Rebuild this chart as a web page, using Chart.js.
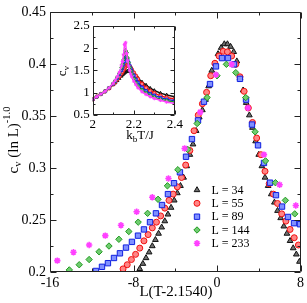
<!DOCTYPE html>
<html>
<head>
<meta charset="utf-8">
<script src="https://cdn.jsdelivr.net/npm/chart.js@4"></script>
<style>
  html, body { margin: 0; padding: 0; background: #fff; }
  #wrap { position: relative; width: 307px; height: 303px; }
  #main { position: absolute; left: 0; top: 0; }
  #inset { position: absolute; left: 55px; top: 15px; }
</style>
</head>
<body>
<div id="wrap">
  <canvas id="main" width="307" height="303"></canvas>
  <canvas id="inset" width="130" height="135"></canvas>
</div>
<script>
// scaled specific heat, main panel
const xTicks = [-16, -8, 0, 8];
const xMinor = [-12, -4, 4];
const yTicks = [0.2, 0.25, 0.3, 0.35, 0.4, 0.45];
const yMinor = [0.225, 0.275, 0.325, 0.375, 0.425];

const labels = ['L = 34', 'L = 55', 'L = 89', 'L = 144', 'L = 233'];

const l34 = [[-7.4,0.203],[-7.1,0.208],[-6.8,0.2135],[-6.5,0.219],[-6.2,0.225],[-5.9,0.231],[-5.6,0.237],[-5.3,0.243],
  [-5.0,0.249],[-4.7,0.2555],[-4.4,0.262],[-4.1,0.269],[-3.8,0.276],[-3.5,0.283],[-3.2,0.291],[-2.9,0.302],[-2.6,0.313],
  [-2.3,0.323],[-2.0,0.336],[-1.7,0.349],[-1.4,0.356],[-1.1,0.366],[-0.8,0.379],[-0.5,0.394],[-0.2,0.401],[0.1,0.410],
  [0.4,0.416],[0.7,0.4195],[1.0,0.4195],[1.3,0.417],[1.6,0.412],[1.9,0.403],[2.2,0.387],[2.5,0.375],[2.8,0.363],
  [3.1,0.351],[3.4,0.339],[3.7,0.326],[4.0,0.313],[4.3,0.302],[4.6,0.291],[4.9,0.283],[5.2,0.275],[5.5,0.267],
  [5.8,0.259],[6.1,0.252],[6.4,0.244],[6.7,0.237],[7.0,0.230],[7.3,0.223],[7.6,0.217],[7.9,0.210]];
const l55 = [[-9.0,0.203],[-8.6,0.207],[-8.2,0.212],[-7.8,0.217],[-7.4,0.223],[-7.0,0.230],[-6.6,0.236],[-6.2,0.2425],
  [-5.8,0.248],[-5.4,0.254],[-5.0,0.2615],[-4.6,0.269],[-4.2,0.275],[-3.8,0.282],[-3.4,0.291],[-3.0,0.303],[-2.6,0.317],
  [-2.2,0.336],[-1.8,0.351],[-1.4,0.362],[-1.0,0.373],[-0.6,0.389],[-0.2,0.401],[0.2,0.408],[0.6,0.4125],[1.0,0.412],
  [1.4,0.408],[1.8,0.400],[2.2,0.388],[2.6,0.374],[3.0,0.358],[3.4,0.344],[3.8,0.329],[4.2,0.313],[4.6,0.297],
  [5.0,0.285],[5.4,0.275],[5.8,0.266],[6.2,0.256],[6.6,0.249],[7.0,0.241],[7.4,0.233],[7.8,0.226]];
const l89 = [[-11.6,0.201],[-11.02,0.205],[-10.45,0.2085],[-9.87,0.2135],[-9.3,0.218],[-8.72,0.2235],[-8.15,0.229],
  [-7.57,0.235],[-7.0,0.241],[-6.42,0.248],[-5.85,0.2565],[-5.27,0.2645],[-4.7,0.275],[-4.12,0.2855],[-3.55,0.296],
  [-2.97,0.311],[-2.4,0.328],[-1.82,0.346],[-1.25,0.364],[-0.67,0.381],[-0.1,0.398],[0.48,0.406],[1.05,0.406],
  [1.63,0.400],[2.2,0.386],[2.78,0.366],[3.35,0.342],[3.93,0.322],[4.5,0.305],[5.08,0.286],[5.65,0.274],[6.23,0.263],
  [6.8,0.253],[7.38,0.247],[7.95,0.246]];
const l144 = [[-14.15,0.202],[-13.2,0.207],[-12.25,0.212],[-11.3,0.2195],[-10.35,0.225],[-9.4,0.2315],[-8.45,0.239],
  [-7.55,0.248],[-6.65,0.2565],[-5.65,0.270],[-4.75,0.283],[-3.75,0.2985],[-2.8,0.318],[-1.9,0.343],[-0.95,0.368],
  [0,0.389],[0.9,0.400],[1.8,0.392],[2.75,0.368],[3.65,0.335],[4.65,0.307],[5.6,0.286],[6.55,0.269],[7.45,0.256]];
const l233 = [[-15.3,0.211],[-13.75,0.219],[-12.25,0.226],[-10.7,0.235],[-9.2,0.245],[-7.7,0.258],[-6.2,0.272],
  [-4.65,0.290],[-3.1,0.319],[-1.6,0.354],[-0.1,0.390],[1.4,0.400],[2.95,0.358],[4.5,0.313],[6.0,0.284],[7.55,0.264]];

// raw c_v, inset
const insetXTicks = [2, 2.2, 2.4];
const insetXMinor = [2.1, 2.3];
const insetYTicks = [0.5, 1, 1.5, 2, 2.5];
const insetYMinor = [0.75, 1.25, 1.75, 2.25];

const insetT = [2.00, 2.02, 2.04, 2.06, 2.08, 2.10, 2.11, 2.12, 2.13, 2.14, 2.145, 2.15, 2.155, 2.16, 2.165,
  2.17, 2.175, 2.18, 2.185, 2.19, 2.20, 2.21, 2.22, 2.24, 2.26, 2.28, 2.30, 2.33, 2.36, 2.40];
const cv34 = [0.85, 0.91, 0.97, 1.03, 1.10, 1.18, 1.22, 1.27, 1.32, 1.37, 1.40, 1.42, 1.44, 1.46, 1.475,
  1.485, 1.49, 1.485, 1.475, 1.46, 1.42, 1.38, 1.33, 1.24, 1.17, 1.10, 1.05, 0.99, 0.95, 0.91];
const cv55 = [0.85, 0.91, 0.97, 1.03, 1.10, 1.19, 1.24, 1.30, 1.36, 1.43, 1.47, 1.51, 1.55, 1.59, 1.615,
  1.625, 1.615, 1.59, 1.56, 1.52, 1.45, 1.38, 1.31, 1.20, 1.11, 1.04, 0.99, 0.93, 0.89, 0.86];
const cv89 = [0.85, 0.91, 0.97, 1.03, 1.11, 1.20, 1.26, 1.33, 1.41, 1.50, 1.56, 1.63, 1.70, 1.77, 1.78,
  1.74, 1.68, 1.61, 1.55, 1.49, 1.39, 1.30, 1.23, 1.12, 1.04, 0.98, 0.94, 0.89, 0.85, 0.82];
const cv144 = [0.85, 0.91, 0.97, 1.03, 1.11, 1.21, 1.27, 1.35, 1.44, 1.56, 1.64, 1.74, 1.85, 1.95, 1.90,
  1.78, 1.67, 1.57, 1.49, 1.42, 1.31, 1.22, 1.15, 1.06, 0.99, 0.94, 0.90, 0.85, 0.82, 0.79];
const cv233 = [0.85, 0.91, 0.97, 1.03, 1.11, 1.21, 1.28, 1.36, 1.46, 1.60, 1.70, 1.85, 2.08, 2.12, 1.88,
  1.72, 1.60, 1.50, 1.42, 1.36, 1.26, 1.18, 1.11, 1.02, 0.96, 0.91, 0.87, 0.83, 0.79, 0.76];

// symbol looks (grace-ish)
const looks = [
  { style: 'triangle', bg: '#707070', border: '#111111', r: 3.3, bw: 1 },
  { style: 'circle',   bg: '#ff8585', border: '#f01010', r: 3.0, bw: 1 },
  { style: 'rect',     bg: '#8090ff', border: '#1020e0', r: 3.8, bw: 1 },
  { style: 'rectRot',  bg: '#70cc70', border: '#209a20', r: 3.2, bw: 1 },
  { style: 'star',     bg: '#ff60ff', border: '#ff40ff', r: 3.2, bw: 1.6 }
];

const SERIF = '"Liberation Serif", "DejaVu Serif", serif';

function pts(list) { return list.map(p => ({ x: p[0], y: p[1] })); }

// text with sub/superscripts, centred on (cx, cy)
function drawRich(ctx, parts, cx, cy, size, rotate) {
  ctx.save();
  ctx.translate(cx, cy);
  if (rotate) ctx.rotate(-Math.PI / 2);
  ctx.fillStyle = '#000';
  ctx.textBaseline = 'middle';
  ctx.textAlign = 'left';
  let w = 0;
  parts.forEach(p => { ctx.font = (size * (p.s || 1)) + 'px ' + SERIF; w += ctx.measureText(p.t).width; });
  let x = -w / 2;
  parts.forEach(p => {
    ctx.font = (size * (p.s || 1)) + 'px ' + SERIF;
    ctx.fillText(p.t, x, (p.dy || 0) * size);
    x += ctx.measureText(p.t).width;
  });
  ctx.restore();
}

// box with inward ticks on all four sides
function frameTicks(o) {
  return {
    id: 'frameTicks',
    afterDatasetsDraw(chart) {
      const { ctx, chartArea: a, scales } = chart;
      const sx = scales.x, sy = scales.y;
      const L = Math.round(a.left) + 0.5, R = Math.round(a.right) - 0.5;
      const T = Math.round(a.top) + 0.5, B = Math.round(a.bottom) - 0.5;
      ctx.save();
      ctx.strokeStyle = '#222';
      ctx.lineWidth = 1;
      ctx.beginPath();
      ctx.rect(L, T, R - L, B - T);
      const xt = (vals, len) => vals.forEach(v => {
        const p = Math.round(sx.getPixelForValue(v)) + 0.5;
        ctx.moveTo(p, B); ctx.lineTo(p, B - len);
        ctx.moveTo(p, T); ctx.lineTo(p, T + len);
      });
      const yt = (vals, len) => vals.forEach(v => {
        const p = Math.round(sy.getPixelForValue(v)) + 0.5;
        ctx.moveTo(L, p); ctx.lineTo(L + len, p);
        ctx.moveTo(R, p); ctx.lineTo(R - len, p);
      });
      xt(o.xMajor, o.major); xt(o.xMinor, o.minor);
      yt(o.yMajor, o.major); yt(o.yMinor, o.minor);
      ctx.stroke();
      ctx.restore();
    }
  };
}

function axisScale(min, max, ticks, fontSize, pad, fit) {
  return {
    type: 'linear', min: min, max: max,
    afterBuildTicks: s => { s.ticks = ticks.map(v => ({ value: v })); },
    afterFit: fit,
    grid: { display: false, drawTicks: false },
    border: { display: false },
    ticks: { font: { family: SERIF, size: fontSize }, color: '#000', padding: pad,
      autoSkip: false, maxRotation: 0, callback: v => String(v) }
  };
}

const mainSets = [l34, l55, l89, l144, l233].map((d, i) => ({
  label: labels[i],
  data: pts(d),
  order: 4 - i,
  pointStyle: looks[i].style,
  pointRadius: looks[i].r,
  pointBackgroundColor: looks[i].bg,
  pointBorderColor: looks[i].border,
  pointBorderWidth: looks[i].bw
}));

const mainDecor = {
  id: 'mainDecor',
  afterDraw(chart) {
    const ctx = chart.ctx;
    drawRich(ctx, [{ t: 'L(T-2.1540)' }], 176, 292, 15, false);
    drawRich(ctx, [{ t: 'c' }, { t: 'v', s: 0.7, dy: 0.3 }, { t: ' (ln L)' }, { t: '-1.0', s: 0.7, dy: -0.45 }],
      14, 140, 15, true);
    // legend
    const rows = [190, 203.3, 216.7, 230, 243.3];
    rows.forEach((y, i) => {
      ctx.save();
      ctx.fillStyle = looks[i].bg;
      ctx.strokeStyle = looks[i].border;
      ctx.lineWidth = looks[i].bw;
      Chart.helpers.drawPoint(ctx, { pointStyle: looks[i].style, radius: looks[i].r, rotation: 0,
        borderWidth: looks[i].bw }, 197, y);
      ctx.restore();
      ctx.fillStyle = '#000';
      ctx.font = '12px ' + SERIF;
      ctx.textBaseline = 'middle';
      ctx.textAlign = 'left';
      ctx.fillText(labels[i], 211.5, y + 0.5);
    });
  }
};

new Chart(document.getElementById('main'), {
  type: 'scatter',
  data: { datasets: mainSets },
  options: {
    responsive: false,
    animation: false,
    layout: { padding: { top: 7, right: 5, left: 0, bottom: 0 } },
    plugins: { legend: { display: false }, tooltip: { enabled: false } },
    scales: {
      x: axisScale(-16, 8, xTicks, 14, 3, s => { s.height = 31; }),
      y: axisScale(0.2, 0.45, yTicks, 14, 4, s => { s.width = 50; })
    }
  },
  plugins: [frameTicks({ xMajor: xTicks, xMinor: xMinor, yMajor: yTicks, yMinor: yMinor, major: 6, minor: 3 }), mainDecor]
});

// inset
const insetSets = [cv34, cv55, cv89, cv144, cv233].map((c, i) => ({
  label: labels[i],
  data: insetT.map((t, k) => ({ x: t, y: c[k] })),
  order: 4 - i,
  showLine: true,
  borderColor: looks[i].border,
  borderWidth: 1.5,
  pointStyle: looks[i].style,
  pointRadius: 1.8,
  pointBackgroundColor: looks[i].bg,
  pointBorderColor: looks[i].border,
  pointBorderWidth: 1
}));

const insetDecor = {
  id: 'insetDecor',
  beforeDraw(chart) {
    const { ctx, chartArea: a } = chart;
    ctx.save();
    ctx.fillStyle = '#fff';
    ctx.fillRect(a.left, a.top, a.right - a.left, a.bottom - a.top);
    ctx.restore();
  },
  afterDraw(chart) {
    const ctx = chart.ctx;
    drawRich(ctx, [{ t: 'k' }, { t: 'b', s: 0.7, dy: 0.3 }, { t: 'T/J' }], 85, 121, 13, false);
    drawRich(ctx, [{ t: 'c' }, { t: 'v', s: 0.7, dy: 0.3 }], 8, 56, 13, true);
  }
};

new Chart(document.getElementById('inset'), {
  type: 'scatter',
  data: { datasets: insetSets },
  options: {
    responsive: false,
    animation: false,
    layout: { padding: { top: 9, right: 6.7, left: 0, bottom: 0 } },
    plugins: { legend: { display: false }, tooltip: { enabled: false } },
    scales: {
      x: axisScale(2, 2.4, insetXTicks, 13, 2, s => { s.height = 35; }),
      y: axisScale(0.5, 2.5, insetYTicks, 13, 3, s => { s.width = 37.7; })
    }
  },
  plugins: [insetDecor, frameTicks({ xMajor: insetXTicks, xMinor: insetXMinor, yMajor: insetYTicks, yMinor: insetYMinor, major: 4, minor: 2 })]
});
</script>
</body>
</html>
